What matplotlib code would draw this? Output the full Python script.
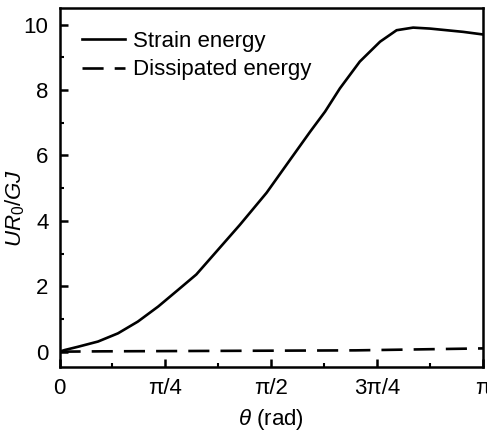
import numpy as np
import matplotlib
matplotlib.use("Agg")
import matplotlib.pyplot as plt
from matplotlib.ticker import MultipleLocator

plt.rcParams['font.family'] = ['Liberation Sans', 'DejaVu Sans']
plt.rcParams['mathtext.fontset'] = 'custom'
plt.rcParams['mathtext.it'] = 'Liberation Sans:italic'
plt.rcParams['mathtext.rm'] = 'Liberation Sans'

# theta as a fraction of pi
strain_frac = [0.0, 0.0123, 0.0437, 0.091, 0.138, 0.185, 0.233, 0.280, 0.323,
               0.363, 0.426, 0.489, 0.544, 0.592, 0.627, 0.662, 0.709, 0.757,
               0.796, 0.835, 0.875, 0.914, 0.953, 1.0]
strain_val = [0.0, 0.05, 0.15, 0.31, 0.56, 0.92, 1.38, 1.89, 2.36,
              2.95, 3.88, 4.86, 5.86, 6.73, 7.34, 8.05, 8.87, 9.48,
              9.83, 9.91, 9.88, 9.83, 9.78, 9.70]

diss_frac = [0.0, 0.1, 0.3, 0.5, 0.7, 0.8, 0.9, 1.0]
diss_val = [0.0, 0.01, 0.02, 0.03, 0.04, 0.06, 0.08, 0.1]

xtick_labels = ['0', 'π/4', 'π/2', '3π/4', 'π']

fig = plt.figure(figsize=(4.87, 4.33), dpi=100)
ax = fig.add_axes([0.1222, 0.1531, 0.8696, 0.8277])

ax.plot(np.array(strain_frac) * np.pi, strain_val, color='black', lw=1.9,
        label='Strain energy', solid_joinstyle='round')
ax.plot(np.array(diss_frac) * np.pi, diss_val, color='black', lw=1.9,
        dashes=(8, 4.2), label='Dissipated energy')

ax.set_xlim(0, np.pi)
ax.set_ylim(-0.46, 10.5)
ax.set_xticks(np.arange(5) * np.pi / 4)
ax.set_xticklabels(xtick_labels)
ax.xaxis.set_minor_locator(MultipleLocator(np.pi / 8))
ax.yaxis.set_major_locator(MultipleLocator(2))
ax.yaxis.set_minor_locator(MultipleLocator(1))

ax.tick_params(which='major', direction='in', length=6, width=1.8,
               labelsize=16, pad=8)
ax.tick_params(which='minor', direction='in', length=3, width=1.5)
for s in ax.spines.values():
    s.set_linewidth(1.8)

ax.set_xlabel(r'$\theta$ (rad)', fontsize=16, labelpad=6)
ax.set_ylabel(r'$UR_0/GJ$', fontsize=16)
ax.yaxis.set_label_coords(-0.076, 0.443)

ax.legend(loc='upper left', frameon=False, fontsize=16, handlelength=1.95,
          borderaxespad=0.6, labelspacing=0.35, handletextpad=0.36)

fig.savefig('out.png', dpi=100)
